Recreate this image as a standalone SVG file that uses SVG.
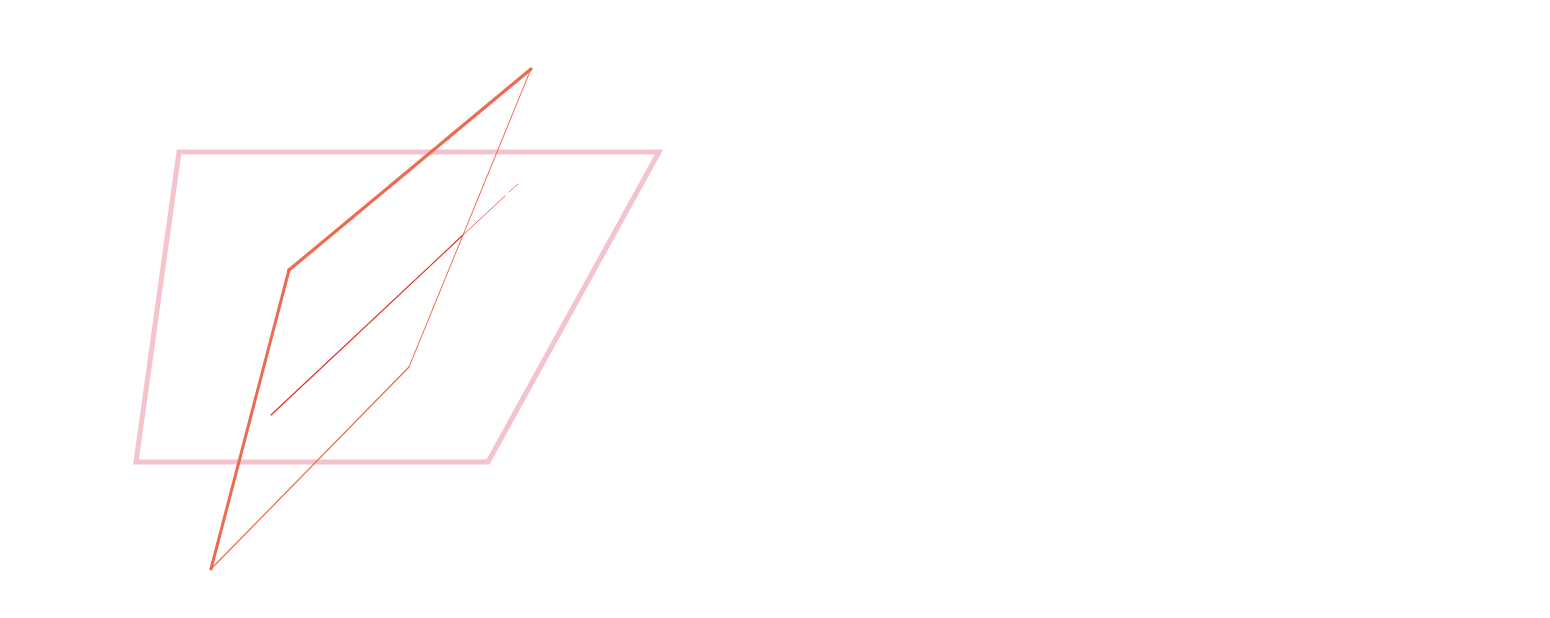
<svg xmlns="http://www.w3.org/2000/svg" width="1550" height="618" viewBox="0 0 1550 618">
<style>
.plane{fill:none;stroke:#f4c3cb;stroke-width:5;stroke-linejoin:miter}
.edge{fill:none;stroke:#ee6a50;stroke-linecap:round;stroke-linejoin:round}
.axis{fill:none;stroke:#e32b22;stroke-linecap:round}
</style>
<rect width="1550" height="618" fill="#ffffff"/>
<g id="plane-horizontal">
<polygon class="plane" points="179,152 659,152 488,462 136,462"/>
</g>
<g id="plane-tilted">
<path class="edge" d="M531,69 L289,270" stroke-width="3.2"/>
<path class="edge" d="M289,270 L211,569" stroke-width="3"/>
<path class="edge" d="M211,569 L409,367" stroke-width="1.2"/>
<path class="edge" d="M409,367 L531,69" stroke-width="1"/>
</g>
<g id="connectors">
<path class="axis" d="M271,415 L462,236" stroke-width="1.1"/>
<path class="axis" d="M462,236 L505,196" stroke-width="0.7"/>
<path class="axis" d="M509,192 L518,184" stroke-width="0.6"/>
</g>
</svg>
